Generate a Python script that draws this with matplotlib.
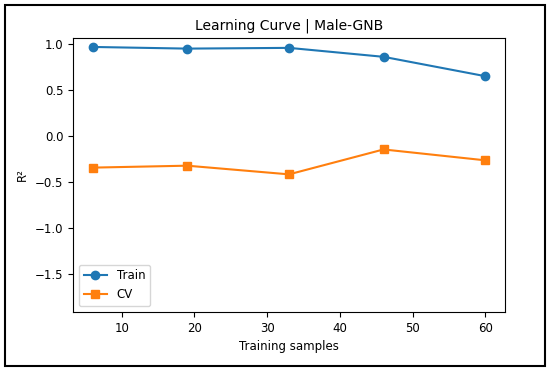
import matplotlib
matplotlib.use('Agg')
import matplotlib.pyplot as plt
from matplotlib.patches import Rectangle

# learning curve values
train_sizes = [6, 19, 33, 46, 60]
train_scores = [0.963, 0.945, 0.953, 0.856, 0.646]
cv_scores = [-0.345, -0.324, -0.418, -0.148, -0.266]

plt.rcParams['font.size'] = 8.5

fig = plt.figure(figsize=(5.5, 3.71), dpi=100)
ax = fig.add_axes([73 / 550, 1 - 312 / 371, 432 / 550, 274 / 371])

ax.plot(train_sizes, train_scores, marker='o', label='Train')
ax.plot(train_sizes, cv_scores, marker='s', label='CV')
ax.set_ylim(-1.91, 1.06)
ax.set_xlabel('Training samples')
ax.set_ylabel('R²')
ax.set_title('Learning Curve | Male-GNB', fontsize=10)
ax.legend(loc='lower left')

# black frame round the whole figure
fig.patches.append(Rectangle((5 / 550, 5 / 371), 540 / 550, 361 / 371,
                             transform=fig.transFigure, fill=False,
                             edgecolor='black', linewidth=1.5))

fig.savefig('out.png', dpi=100)
